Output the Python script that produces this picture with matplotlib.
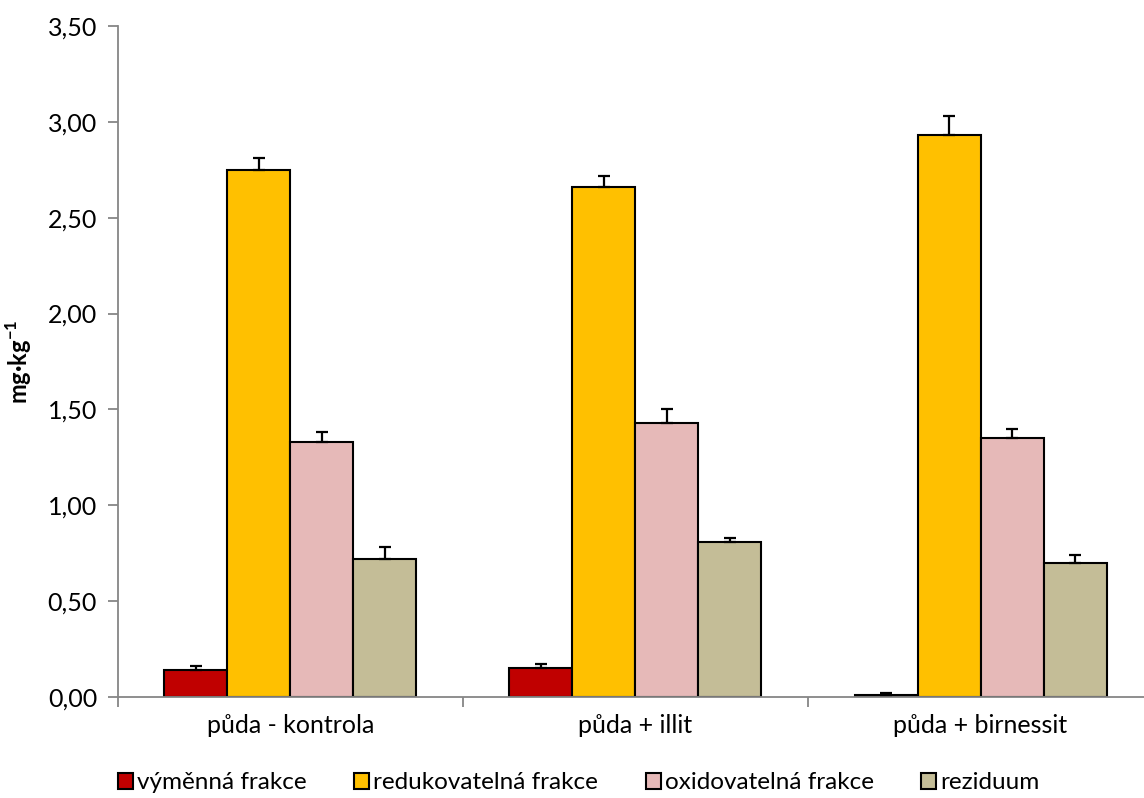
import matplotlib.pyplot as plt
import numpy as np

plt.rcParams["font.family"] = ["Lato", "DejaVu Sans"]

categories = ["půda - kontrola", "půda + illit", "půda + birnessit"]
series = ["výměnná frakce", "redukovatelná frakce", "oxidovatelná frakce", "reziduum"]
values = [
    [0.14, 0.15, 0.01],
    [2.75, 2.66, 2.93],
    [1.33, 1.43, 1.35],
    [0.72, 0.81, 0.70],
]
errors = [
    [0.02, 0.02, 0.01],
    [0.06, 0.06, 0.10],
    [0.05, 0.07, 0.05],
    [0.06, 0.02, 0.04],
]
colors = ["#C00000", "#FFC000", "#E6B9B8", "#C4BD97"]
yticks = [0.0, 0.5, 1.0, 1.5, 2.0, 2.5, 3.0, 3.5]

fig = plt.figure(figsize=(11.44, 7.98), dpi=100)
ax = fig.add_axes([0.1031, 0.1266, 0.9048, 0.8408])

x = np.arange(len(categories))
w = 0.1826
for i, (name, vals, errs, col) in enumerate(zip(series, values, errors, colors)):
    pos = x + (i - 1.5) * w
    ax.bar(pos, vals, width=w, color=col, edgecolor="black", linewidth=1.5,
           label=name, zorder=2)
    ax.errorbar(pos, vals, yerr=[np.zeros(len(errs)), errs], fmt="none",
                ecolor="black", elinewidth=1.6, capsize=4.5, capthick=1.6, zorder=3)

ax.set_xlim(-0.5, 2.5)
ax.set_ylim(0, 3.5)
ax.set_yticks(yticks)
ax.set_yticklabels([f"{v:.2f}".replace(".", ",") for v in yticks], fontsize=18)
ax.set_xticks([-0.5, 0.5, 1.5, 2.5])
ax.set_xticklabels([])
ax.set_xticks(x, minor=True)
ax.set_xticklabels(categories, minor=True, fontsize=18)
ax.tick_params(axis="x", which="minor", length=0, pad=12)
ax.tick_params(axis="x", which="major", length=7, color="#868686", width=1.3)
ax.tick_params(axis="y", length=7, color="#868686", width=1.3, pad=8)

for s in ["top", "right"]:
    ax.spines[s].set_visible(False)
for s in ["left", "bottom"]:
    ax.spines[s].set_color("#868686")
    ax.spines[s].set_linewidth(1.3)

ax.set_ylabel("mg·kg$^{\\mathregular{-1}}$", fontsize=17, fontweight="bold", labelpad=10)

fig.legend(loc="lower left", bbox_to_anchor=(118 / 1144, 0.006), ncol=4, frameon=False,
           fontsize=17.5, handlelength=0.62, handleheight=0.62, handletextpad=0.17,
           columnspacing=1.95, borderpad=0, borderaxespad=0)

fig.savefig("out.png", dpi=100)
